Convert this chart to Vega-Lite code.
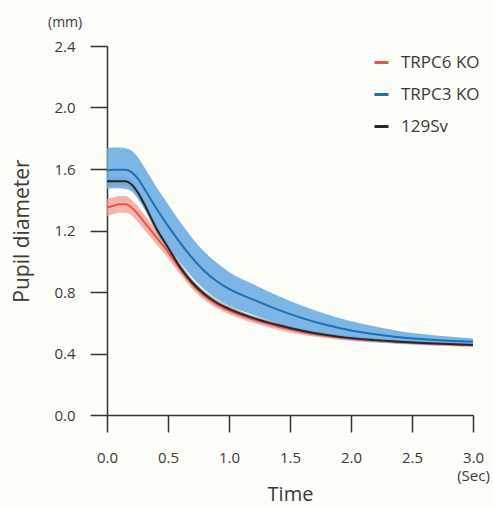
{
  "$schema": "https://vega.github.io/schema/vega-lite/v6.json",
  "width": 366,
  "height": 369,
  "autosize": {"type": "none"},
  "padding": {"left": 107, "top": 46, "right": 20, "bottom": 92},
  "background": "#fdfdf9",
  "config": {
    "view": {"stroke": null},
    "font": "Open Sans",
    "axis": {
      "grid": false,
      "labelFlush": false,
      "domainColor": "#333333",
      "domainWidth": 1.5,
      "tickColor": "#333333",
      "tickWidth": 1.5,
      "tickSize": 17,
      "labelFont": "Open Sans",
      "labelFontSize": 15,
      "labelColor": "#3a3a3a",
      "titleFont": "Open Sans",
      "titleFontSize": 20,
      "titleFontWeight": "normal",
      "titleColor": "#3a3a3a"
    },
    "legend": {
      "orient": "none",
      "legendX": 266,
      "legendY": 8,
      "padding": 0,
      "symbolType": "stroke",
      "symbolStrokeWidth": 3,
      "symbolSize": 196,
      "labelFont": "Open Sans",
      "labelFontSize": 17,
      "labelColor": "#3a3a3a",
      "labelOffset": 11,
      "rowPadding": 14
    }
  },
  "title": {
    "text": "(mm)",
    "anchor": "start",
    "frame": "group",
    "dx": -59,
    "offset": 9,
    "fontSize": 14,
    "fontWeight": "normal",
    "font": "Open Sans",
    "color": "#3a3a3a"
  },
  "data": {
    "values": [
      {"g": "TRPC6 KO", "t": 0, "m": 1.35, "lo": 1.295, "hi": 1.405},
      {"g": "TRPC6 KO", "t": 0.05, "m": 1.36, "lo": 1.305, "hi": 1.415},
      {"g": "TRPC6 KO", "t": 0.1, "m": 1.37, "lo": 1.315, "hi": 1.425},
      {"g": "TRPC6 KO", "t": 0.15, "m": 1.37, "lo": 1.315, "hi": 1.425},
      {"g": "TRPC6 KO", "t": 0.2, "m": 1.35, "lo": 1.3, "hi": 1.4},
      {"g": "TRPC6 KO", "t": 0.25, "m": 1.31, "lo": 1.26, "hi": 1.36},
      {"g": "TRPC6 KO", "t": 0.3, "m": 1.26, "lo": 1.21, "hi": 1.31},
      {"g": "TRPC6 KO", "t": 0.4, "m": 1.16, "lo": 1.115, "hi": 1.205},
      {"g": "TRPC6 KO", "t": 0.5, "m": 1.06, "lo": 1.02, "hi": 1.1},
      {"g": "TRPC6 KO", "t": 0.6, "m": 0.95, "lo": 0.915, "hi": 0.985},
      {"g": "TRPC6 KO", "t": 0.7, "m": 0.85, "lo": 0.82, "hi": 0.88},
      {"g": "TRPC6 KO", "t": 0.8, "m": 0.775, "lo": 0.747, "hi": 0.803},
      {"g": "TRPC6 KO", "t": 0.9, "m": 0.72, "lo": 0.695, "hi": 0.745},
      {"g": "TRPC6 KO", "t": 1.0, "m": 0.68, "lo": 0.655, "hi": 0.705},
      {"g": "TRPC6 KO", "t": 1.2, "m": 0.62, "lo": 0.598, "hi": 0.642},
      {"g": "TRPC6 KO", "t": 1.4, "m": 0.575, "lo": 0.555, "hi": 0.595},
      {"g": "TRPC6 KO", "t": 1.6, "m": 0.54, "lo": 0.522, "hi": 0.558},
      {"g": "TRPC6 KO", "t": 1.8, "m": 0.515, "lo": 0.499, "hi": 0.531},
      {"g": "TRPC6 KO", "t": 2.0, "m": 0.497, "lo": 0.482, "hi": 0.512},
      {"g": "TRPC6 KO", "t": 2.2, "m": 0.485, "lo": 0.471, "hi": 0.499},
      {"g": "TRPC6 KO", "t": 2.4, "m": 0.474, "lo": 0.461, "hi": 0.487},
      {"g": "TRPC6 KO", "t": 2.6, "m": 0.466, "lo": 0.454, "hi": 0.478},
      {"g": "TRPC6 KO", "t": 2.8, "m": 0.46, "lo": 0.448, "hi": 0.472},
      {"g": "TRPC6 KO", "t": 3.0, "m": 0.455, "lo": 0.443, "hi": 0.467},
      {"g": "129Sv", "t": 0, "m": 1.52, "lo": 1.49, "hi": 1.55},
      {"g": "129Sv", "t": 0.05, "m": 1.52, "lo": 1.49, "hi": 1.55},
      {"g": "129Sv", "t": 0.1, "m": 1.52, "lo": 1.49, "hi": 1.55},
      {"g": "129Sv", "t": 0.15, "m": 1.52, "lo": 1.49, "hi": 1.55},
      {"g": "129Sv", "t": 0.2, "m": 1.5, "lo": 1.47, "hi": 1.53},
      {"g": "129Sv", "t": 0.25, "m": 1.45, "lo": 1.42, "hi": 1.48},
      {"g": "129Sv", "t": 0.3, "m": 1.38, "lo": 1.35, "hi": 1.41},
      {"g": "129Sv", "t": 0.4, "m": 1.22, "lo": 1.192, "hi": 1.248},
      {"g": "129Sv", "t": 0.5, "m": 1.09, "lo": 1.064, "hi": 1.116},
      {"g": "129Sv", "t": 0.6, "m": 0.96, "lo": 0.936, "hi": 0.984},
      {"g": "129Sv", "t": 0.7, "m": 0.86, "lo": 0.838, "hi": 0.882},
      {"g": "129Sv", "t": 0.8, "m": 0.785, "lo": 0.765, "hi": 0.805},
      {"g": "129Sv", "t": 0.9, "m": 0.73, "lo": 0.71, "hi": 0.75},
      {"g": "129Sv", "t": 1.0, "m": 0.69, "lo": 0.672, "hi": 0.708},
      {"g": "129Sv", "t": 1.2, "m": 0.63, "lo": 0.614, "hi": 0.646},
      {"g": "129Sv", "t": 1.4, "m": 0.585, "lo": 0.57, "hi": 0.6},
      {"g": "129Sv", "t": 1.6, "m": 0.548, "lo": 0.534, "hi": 0.562},
      {"g": "129Sv", "t": 1.8, "m": 0.52, "lo": 0.507, "hi": 0.533},
      {"g": "129Sv", "t": 2.0, "m": 0.5, "lo": 0.488, "hi": 0.512},
      {"g": "129Sv", "t": 2.2, "m": 0.487, "lo": 0.475, "hi": 0.499},
      {"g": "129Sv", "t": 2.4, "m": 0.476, "lo": 0.465, "hi": 0.487},
      {"g": "129Sv", "t": 2.6, "m": 0.468, "lo": 0.457, "hi": 0.479},
      {"g": "129Sv", "t": 2.8, "m": 0.461, "lo": 0.451, "hi": 0.471},
      {"g": "129Sv", "t": 3.0, "m": 0.456, "lo": 0.446, "hi": 0.466},
      {"g": "TRPC3 KO", "t": 0, "m": 1.59, "lo": 1.47, "hi": 1.735},
      {"g": "TRPC3 KO", "t": 0.05, "m": 1.595, "lo": 1.475, "hi": 1.74},
      {"g": "TRPC3 KO", "t": 0.1, "m": 1.595, "lo": 1.475, "hi": 1.74},
      {"g": "TRPC3 KO", "t": 0.15, "m": 1.595, "lo": 1.47, "hi": 1.735},
      {"g": "TRPC3 KO", "t": 0.2, "m": 1.58, "lo": 1.455, "hi": 1.72},
      {"g": "TRPC3 KO", "t": 0.25, "m": 1.54, "lo": 1.41, "hi": 1.68},
      {"g": "TRPC3 KO", "t": 0.3, "m": 1.48, "lo": 1.35, "hi": 1.62},
      {"g": "TRPC3 KO", "t": 0.4, "m": 1.35, "lo": 1.22, "hi": 1.49},
      {"g": "TRPC3 KO", "t": 0.5, "m": 1.23, "lo": 1.1, "hi": 1.37},
      {"g": "TRPC3 KO", "t": 0.6, "m": 1.12, "lo": 0.99, "hi": 1.255},
      {"g": "TRPC3 KO", "t": 0.7, "m": 1.02, "lo": 0.895, "hi": 1.15},
      {"g": "TRPC3 KO", "t": 0.8, "m": 0.935, "lo": 0.815, "hi": 1.06},
      {"g": "TRPC3 KO", "t": 0.9, "m": 0.87, "lo": 0.755, "hi": 0.99},
      {"g": "TRPC3 KO", "t": 1.0, "m": 0.82, "lo": 0.71, "hi": 0.93},
      {"g": "TRPC3 KO", "t": 1.2, "m": 0.75, "lo": 0.65, "hi": 0.85},
      {"g": "TRPC3 KO", "t": 1.4, "m": 0.685, "lo": 0.595, "hi": 0.775},
      {"g": "TRPC3 KO", "t": 1.6, "m": 0.63, "lo": 0.55, "hi": 0.71},
      {"g": "TRPC3 KO", "t": 1.8, "m": 0.585, "lo": 0.515, "hi": 0.655},
      {"g": "TRPC3 KO", "t": 2.0, "m": 0.55, "lo": 0.49, "hi": 0.61},
      {"g": "TRPC3 KO", "t": 2.2, "m": 0.525, "lo": 0.475, "hi": 0.575},
      {"g": "TRPC3 KO", "t": 2.4, "m": 0.505, "lo": 0.465, "hi": 0.545},
      {"g": "TRPC3 KO", "t": 2.6, "m": 0.492, "lo": 0.46, "hi": 0.525},
      {"g": "TRPC3 KO", "t": 2.8, "m": 0.483, "lo": 0.457, "hi": 0.51},
      {"g": "TRPC3 KO", "t": 3.0, "m": 0.477, "lo": 0.456, "hi": 0.498}
    ]
  },
  "encoding": {
    "x": {
      "field": "t",
      "type": "quantitative",
      "scale": {"domain": [0, 3], "nice": false, "zero": false},
      "axis": {
        "values": [0, 0.5, 1, 1.5, 2, 2.5, 3],
        "format": ".1f",
        "title": "Time",
        "labelPadding": 18,
        "labelExpr": "datum.value == 3 ? ['3.0', '(Sec)'] : datum.label",
        "labelLineHeight": 18,
        "titlePadding": 1
      }
    }
  },
  "layer": [
    {
      "transform": [{"filter": "datum.g == 'TRPC6 KO'"}],
      "mark": {"type": "area", "interpolate": "monotone", "color": "#f29a94", "opacity": 0.75},
      "encoding": {
        "y": {"field": "lo", "type": "quantitative"},
        "y2": {"field": "hi"}
      }
    },
    {
      "transform": [{"filter": "datum.g == '129Sv'"}],
      "mark": {"type": "area", "interpolate": "monotone", "color": "#8a8a8a", "opacity": 0.6},
      "encoding": {
        "y": {"field": "lo", "type": "quantitative"},
        "y2": {"field": "hi"}
      }
    },
    {
      "transform": [{"filter": "datum.g == 'TRPC3 KO'"}],
      "mark": {"type": "area", "interpolate": "monotone", "color": "#66a8e0", "opacity": 0.85},
      "encoding": {
        "y": {"field": "lo", "type": "quantitative"},
        "y2": {"field": "hi"}
      }
    },
    {
      "mark": {"type": "line", "interpolate": "monotone", "strokeWidth": 2},
      "encoding": {
        "y": {
          "field": "m",
          "type": "quantitative",
          "scale": {"domain": [0, 2.4], "nice": false},
          "axis": {
            "values": [0, 0.4, 0.8, 1.2, 1.6, 2.0, 2.4],
            "format": ".1f",
            "title": "Pupil diameter",
            "titleFontSize": 21,
            "labelPadding": 15,
            "titlePadding": 21
          }
        },
        "color": {
          "field": "g",
          "type": "nominal",
          "sort": ["TRPC6 KO", "TRPC3 KO", "129Sv"],
          "scale": {"domain": ["TRPC6 KO", "TRPC3 KO", "129Sv"], "range": ["#e8534d", "#1c6fb8", "#262626"]},
          "legend": {"title": null}
        }
      }
    }
  ]
}
